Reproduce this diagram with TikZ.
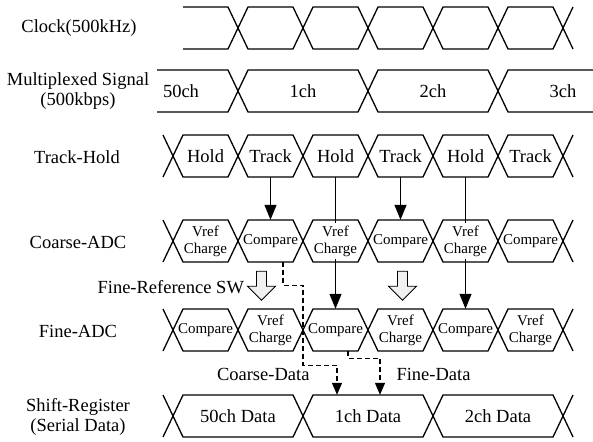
\documentclass[tikz,border=0pt]{standalone}
\usepackage{fontspec}
\setmainfont{Liberation Serif}
\usetikzlibrary{arrows.meta,positioning,calc}

\tikzset{
  sig/.style={line width=1.3pt},
  lbl/.style={font=\fontsize{18.5}{20}\selectfont, align=center},
  cell/.style={minimum width=44pt, minimum height=42pt, inner sep=0pt,
               align=center, font=\fontsize{18.5}{18}\selectfont},
  cellsm/.style={cell, font=\fontsize{15}{17}\selectfont},
  flow/.style={line width=1.3pt, -{Triangle[length=15pt,width=12pt]}},
  dataflow/.style={line width=1.2pt, -{Triangle[length=12pt,width=10pt]},
                   dash pattern=on 5pt off 3pt},
  swarrow/.style={line width=0.9pt, fill=gray!12},
}
% one bus cell: left crossing, right crossing, centre line
\newcommand{\bushex}[3]{%
  \draw[sig] (#1,#3) -- (#1+10,#3-21) -- (#2-10,#3-21) -- (#2,#3)
    -- (#2-10,#3+21) -- (#1+10,#3+21) -- cycle;}
\newcommand{\vc}{Vref\\Charge}

\begin{document}
\begin{tikzpicture}[x=1pt,y=-1pt]
\useasboundingbox (0,0) rectangle (593,441);

% row labels
\node[lbl] (lclk) at (79,28) {Clock(500kHz)};
\node[lbl] (lmux) at (78,91) {Multiplexed Signal\\(500kbps)};
\node[lbl] (lth) at (77,157) {Track-Hold};
\node[lbl] (lca) at (78,242) {Coarse-ADC};
\node[lbl] (lfi) at (78,331) {Fine-ADC};
\node[lbl] (lsh) at (78,417) {Shift-Register\\(Serial Data)};

% Clock
\draw[sig] (183,7) -- (228,7) -- (238,28) -- (228,49) -- (183,49);
\foreach \i in {0,...,4}{
  \pgfmathsetmacro\xa{238+\i*65}
  \bushex{\xa}{\xa+65}{28}
}
\draw[sig] (573,7) -- (563,28) -- (573,49);

% Multiplexed signal
\draw[sig] (157,70) -- (228,70) -- (238,91) -- (228,112) -- (157,112);
\bushex{238}{368}{91}
\bushex{368}{498}{91}
\draw[sig] (593,70) -- (508,70) -- (498,91) -- (508,112) -- (593,112);
\node[lbl] (m50) at (181,91) {50ch};
\node[lbl] (m1) at (303,91) {1ch};
\node[lbl] (m2) at (433,91) {2ch};
\node[lbl] (m3) at (563,91) {3ch};

% Track-Hold / Coarse-ADC / Fine-ADC : 6 cells between x=173 and 563
\foreach \i in {1,...,6}{
  \pgfmathsetmacro\xa{108+\i*65}
  \bushex{\xa}{\xa+65}{156}
  \bushex{\xa}{\xa+65}{241}
  \bushex{\xa}{\xa+65}{330}
}
\foreach \t [count=\i] in {Hold,Track,Hold,Track,Hold,Track}
  \node[cell] (th\i) at (140.5+\i*65,156) {\t};
\foreach \t [count=\i] in {\vc,Compare,\vc,Compare,\vc,Compare}
  \node[cellsm] (ca\i) at (140.5+\i*65,241) {\t};
\foreach \t [count=\i] in {Compare,\vc,Compare,\vc,Compare,\vc}
  \node[cellsm] (fi\i) at (140.5+\i*65,330) {\t};

% Shift-Register : 3 cells
\foreach \t [count=\i] in {50ch Data,1ch Data,2ch Data}{
  \pgfmathsetmacro\xa{43+\i*130}
  \bushex{\xa}{\xa+130}{416}
  \node[cell, minimum width=110pt] (sh\i) at (\xa+65,416) {\t};
}

% loose ends of the crossings
\foreach \y in {156,241,330,416}{
  \draw[sig] (163,\y-21) -- (173,\y) -- (163,\y+21);
  \draw[sig] (573,\y-21) -- (563,\y) -- (573,\y+21);
}

% track-hold -> ADCs
\draw[flow] (th2.south) -- (ca2.north);
\draw[flow] (th4.south) -- (ca4.north);
\draw[sig] (th3.south) -- ([yshift=-3pt]ca3.north);
\draw[flow] ([yshift=3pt]ca3.south) -- (fi3.north);
\draw[sig] (th5.south) -- ([yshift=-3pt]ca5.north);
\draw[flow] ([yshift=3pt]ca5.south) -- (fi5.north);

% fine reference switching
\filldraw[swarrow] ($(ca2.south)+(-9,9)$) ++(-5,0) -- ++(0,15) -- ++(-9,0)
  -- ++(14,14) -- ++(14,-14) -- ++(-9,0) -- ++(0,-15) -- cycle;
\filldraw[swarrow] ($(ca4.south)+(2,9)$) ++(-5,0) -- ++(0,15) -- ++(-9,0)
  -- ++(14,14) -- ++(14,-14) -- ++(-9,0) -- ++(0,-15) -- cycle;
\node[lbl, anchor=east] (swlbl) at ($(ca2.south)+(-23,25)$) {Fine-Reference SW};

% data into the shift register
\draw[dataflow] ([xshift=12.5pt]ca2.south) -- ++(0,23) -- ++(20,0) -- ++(0,80)
  -- ++(34,0) -- ([xshift=-31pt]sh2.north);
\draw[dataflow] ([xshift=12.5pt]fi3.south) -- ++(0,7) -- ++(32,0)
  -- ([xshift=12pt]sh2.north);
\node[lbl, anchor=east] (cdlbl) at (313,374) {Coarse-Data};
\node[lbl, anchor=west] (fdlbl) at (393,374) {Fine-Data};
\end{tikzpicture}
\end{document}
